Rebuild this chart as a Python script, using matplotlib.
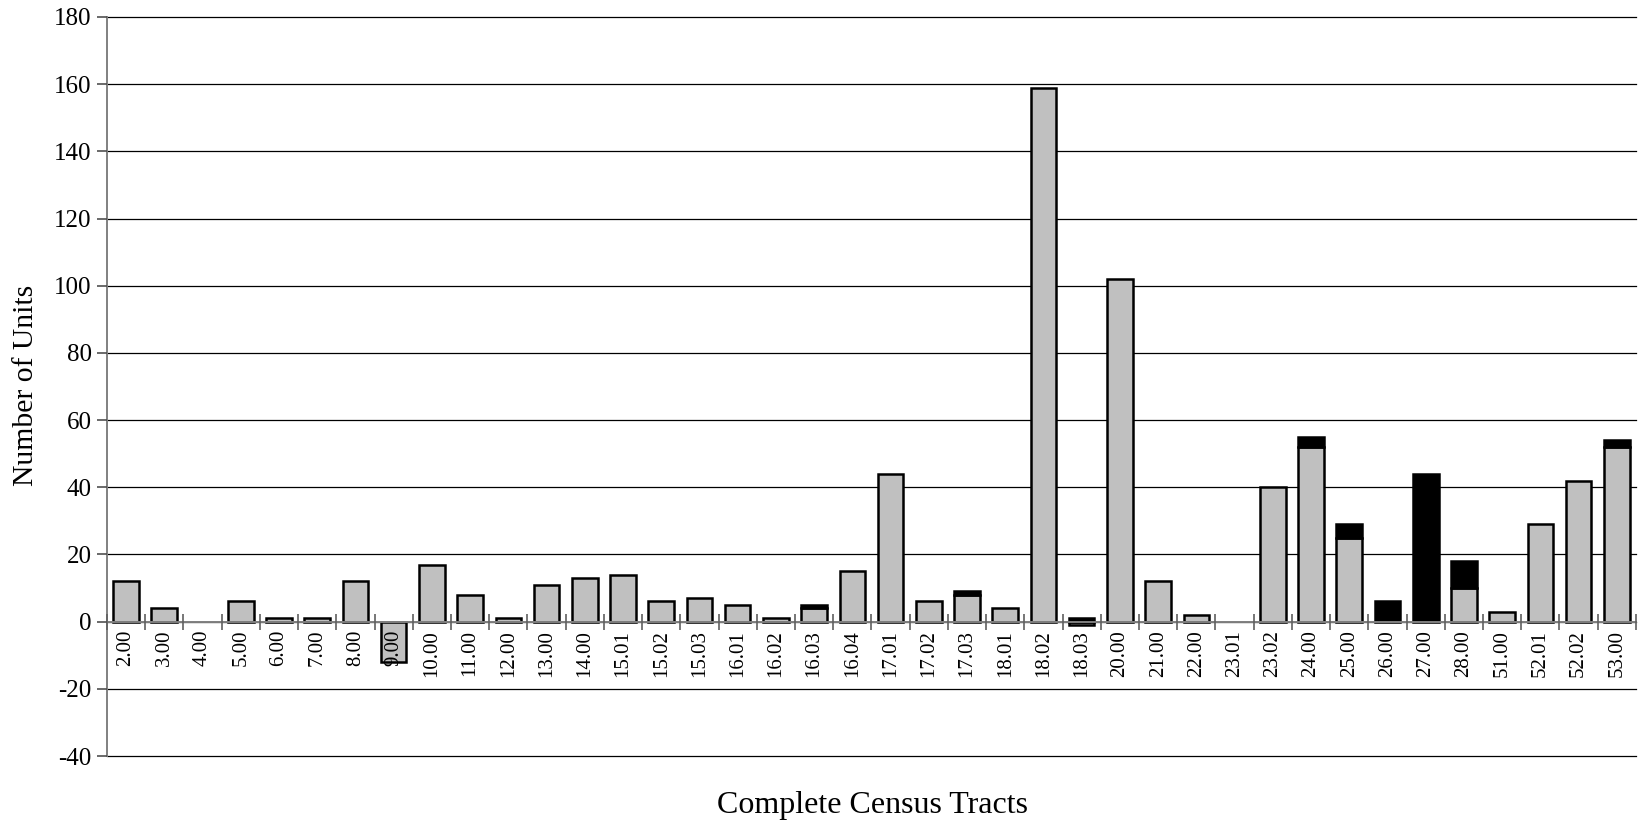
import numpy as np
import matplotlib
matplotlib.use("Agg")
import matplotlib.pyplot as plt
from matplotlib.ticker import FixedLocator, NullFormatter, FixedFormatter

plt.rcParams['font.family'] = ['Liberation Serif', 'DejaVu Serif']

tracts = ["2.00", "3.00", "4.00", "5.00", "6.00", "7.00", "8.00", "9.00", "10.00", "11.00",
          "12.00", "13.00", "14.00", "15.01", "15.02", "15.03", "16.01", "16.02", "16.03", "16.04",
          "17.01", "17.02", "17.03", "18.01", "18.02", "18.03", "20.00", "21.00", "22.00", "23.01",
          "23.02", "24.00", "25.00", "26.00", "27.00", "28.00", "51.00", "52.01", "52.02", "53.00"]
gray_units = [12, 4, 0, 6, 1, 1, 12, -12, 17, 8,
              1, 11, 13, 14, 6, 7, 5, 1, 4, 15,
              44, 6, 8, 4, 159, -1, 102, 12, 2, 0,
              40, 52, 25, 0, 0, 10, 3, 29, 42, 52]
black_units = [0, 0, 0, 0, 0, 0, 0, 0, 0, 0,
               0, 0, 0, 0, 0, 0, 0, 0, 1, 0,
               0, 0, 1, 0, 0, 1, 0, 0, 0, 0,
               0, 3, 4, 6, 44, 8, 0, 0, 0, 2]
y_ticks = [-40, -20, 0, 20, 40, 60, 80, 100, 120, 140, 160, 180]

x = np.arange(len(tracts))
gray = np.array(gray_units)
black = np.array(black_units)

fig = plt.figure(figsize=(16.43, 8.24), dpi=100)
ax = fig.add_axes([0.0651, 0.0825, 0.9306, 0.8969])

# grid lines behind bars
for v in y_ticks:
    ax.axhline(v, color="black", lw=0.9, zorder=0, clip_on=False)

w = 0.67
ax.bar(x, gray, width=w, color="#C0C0C0", edgecolor="black",
       linewidth=[1.8 if g != 0 else 0 for g in gray], zorder=1)
ax.bar(x, black, width=w, bottom=np.maximum(gray, 0), color="black", edgecolor="black",
       linewidth=[1.8 if b != 0 else 0 for b in black], zorder=1)

ax.set_ylim(-40, 180)
ax.set_xlim(-0.5, len(tracts) - 0.5)
ax.set_yticks(y_ticks)
ax.set_yticklabels([str(v) for v in y_ticks], fontsize=18)
ax.tick_params(axis="y", direction="out", length=7, width=1.2, color="#505050", pad=4)

ax.set_axisbelow(False)
for s in ["top", "right"]:
    ax.spines[s].set_visible(False)
ax.spines["left"].set_color("#808080")
ax.spines["left"].set_linewidth(1.4)
ax.spines["bottom"].set_position(("data", 0))
ax.spines["bottom"].set_color("#808080")
ax.spines["bottom"].set_linewidth(1.4)

ax.xaxis.set_major_locator(FixedLocator(np.arange(-0.5, len(tracts), 1.0)))
ax.xaxis.set_major_formatter(NullFormatter())
ax.xaxis.set_minor_locator(FixedLocator(x))
ax.xaxis.set_minor_formatter(FixedFormatter(tracts))
ax.tick_params(axis="x", which="major", direction="inout", length=12, width=1.2, color="#606060")
ax.tick_params(axis="x", which="minor", length=0, pad=6, labelsize=15, labelrotation=90)

fig.text(0.531, 0.022, "Complete Census Tracts", ha="center", va="center", fontsize=23)
fig.text(0.016, 0.532, "Number of Units", ha="center", va="center", rotation=90, fontsize=21.3)

fig.savefig("out.png", dpi=100)
